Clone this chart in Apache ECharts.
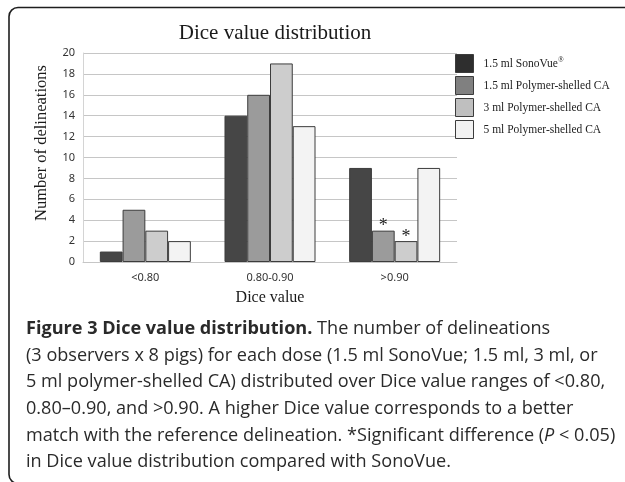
<!DOCTYPE html>
<html>
<head>
<meta charset="utf-8">
<script src="https://cdn.jsdelivr.net/npm/echarts@6/dist/echarts.min.js"></script>
<style>
html,body{margin:0;padding:0;background:#fff;}
#chart{width:625px;height:482px;}
</style>
</head>
<body>
<div id="chart"></div>
<script>
// ---- data ----
var categories = ['<0.80', '0.80-0.90', '>0.90'];
var seriesNames = ['1.5 ml SonoVue\u00ae', '1.5 ml Polymer-shelled CA', '3 ml Polymer-shelled CA', '5 ml Polymer-shelled CA'];
var sonoVue = [1, 14, 9];
var polymer15 = [5, 16, 3];
var polymer3 = [3, 19, 2];
var polymer5 = [2, 13, 9];
// category indices marked with * (significant vs SonoVue)
var sigPolymer15 = [2];
var sigPolymer3 = [2];
var yTicks = [0, 2, 4, 6, 8, 10, 12, 14, 16, 18, 20];

var titleText = 'Dice value distribution';
var xName = 'Dice value';
var yName = 'Number of delineations';
var captionLines = [
  ['{b|Figure 3 Dice value distribution.} The number of delineations'],
  ['(3 observers x 8 pigs) for each dose (1.5 ml SonoVue; 1.5 ml, 3 ml, or'],
  ['5 ml polymer-shelled CA) distributed over Dice value ranges of <0.80,'],
  ['0.80\u20130.90, and >0.90. A higher Dice value corresponds to a better'],
  ['match with the reference delineation. *Significant difference ({i|P} < 0.05)'],
  ['in Dice value distribution compared with SonoVue.']
];

var barColors = ['#464646', '#9b9b9b', '#cdcdcd', '#f3f3f3'];
var legendColors = ['#2e2e2e', '#808080', '#bfbfbf', '#f2f2f2'];
var seriesData = [sonoVue, polymer15, polymer3, polymer5];
var sigMarks = [[], sigPolymer15, sigPolymer3, []];

var chart = echarts.init(document.getElementById('chart'), null, {renderer: 'canvas'});

var series = seriesData.map(function (arr, si) {
  return {
    name: seriesNames[si],
    type: 'bar',
    barGap: '0%',
    barCategoryGap: '27%',
    itemStyle: {color: barColors[si], borderColor: '#3c3c3c', borderWidth: 1},
    emphasis: {disabled: true},
    data: arr.map(function (v, ci) {
      var d = {value: v};
      if (sigMarks[si].indexOf(ci) >= 0) {
        d.label = {
          show: true, position: 'top', formatter: '*', distance: -5,
          fontFamily: 'Liberation Serif', fontSize: 18, color: '#222'
        };
      }
      return d;
    })
  };
});

var capFont = 18.1;
var graphics = [
  {type: 'rect', shape: {x: 9, y: 7.5, width: 640, height: 476, r: 9}, style: {fill: null, stroke: '#1e1e1e', lineWidth: 1.6}, silent: true},
  {type: 'text', x: 275, y: 33, style: {text: titleText, font: '21px "Liberation Serif"', fill: '#1a1a1a', textAlign: 'center', textVerticalAlign: 'middle'}},
  {type: 'text', x: 42, y: 143, rotation: Math.PI / 2, style: {text: yName, font: '16.5px "Liberation Serif"', fill: '#1a1a1a', textAlign: 'center', textVerticalAlign: 'middle'}},
  {type: 'text', x: 270, y: 298, style: {text: xName, font: '16px "Liberation Serif"', fill: '#1a1a1a', textAlign: 'center', textVerticalAlign: 'middle'}}
];
var lineTop = 329, lineStep = 26.6;
captionLines.forEach(function (ln, i) {
  graphics.push({
    type: 'text', x: 26, y: lineTop + i * lineStep,
    style: {
      text: ln[0],
      font: capFont + 'px "Open Sans"',
      fill: '#2a2a2a',
      textVerticalAlign: 'middle',
      rich: {
        b: {fontFamily: 'Open Sans', fontWeight: 'bold', fontSize: capFont, fill: '#2a2a2a'},
        i: {fontFamily: 'Open Sans', fontStyle: 'italic', fontSize: capFont, fill: '#2a2a2a'}
      }
    }
  });
});

chart.setOption({
  animation: false,
  backgroundColor: '#fff',
  grid: {left: 83, right: 168, top: 53, bottom: 220, containLabel: false},
  legend: {
    orient: 'vertical',
    left: 455, top: 54,
    padding: 0,
    itemWidth: 18, itemHeight: 18, itemGap: 3,
    icon: 'rect',
    selectedMode: false,
    data: seriesNames.map(function (n, i) {
      return {name: n, itemStyle: {color: legendColors[i], borderColor: '#3c3c3c', borderWidth: 1}};
    }),
    formatter: function (n) {
      return n.replace('\u00ae', '{s|\u00ae}');
    },
    textStyle: {
      fontFamily: 'Liberation Serif', fontSize: 11.5, color: '#222', padding: [0, 0, 0, 5],
      rich: {s: {fontFamily: 'Liberation Serif', fontSize: 7.5, color: '#222', verticalAlign: 'top', padding: [0, 0, 6, 0]}}
    }
  },
  xAxis: {
    type: 'category',
    data: categories,
    axisTick: {show: false},
    axisLine: {show: true, lineStyle: {color: '#c6c6c6'}},
    axisLabel: {fontFamily: 'Noto Sans', fontSize: 11, color: '#333', margin: 10}
  },
  yAxis: {
    type: 'value',
    min: yTicks[0], max: yTicks[yTicks.length - 1], interval: yTicks[1] - yTicks[0],
    axisLine: {show: true, lineStyle: {color: '#d4d4d4'}},
    axisTick: {show: false},
    splitLine: {show: true, lineStyle: {color: '#c6c6c6', width: 1}},
    axisLabel: {fontFamily: 'Noto Sans', fontSize: 11, color: '#333', margin: 8}
  },
  graphic: graphics,
  series: series
});
</script>
</body>
</html>
